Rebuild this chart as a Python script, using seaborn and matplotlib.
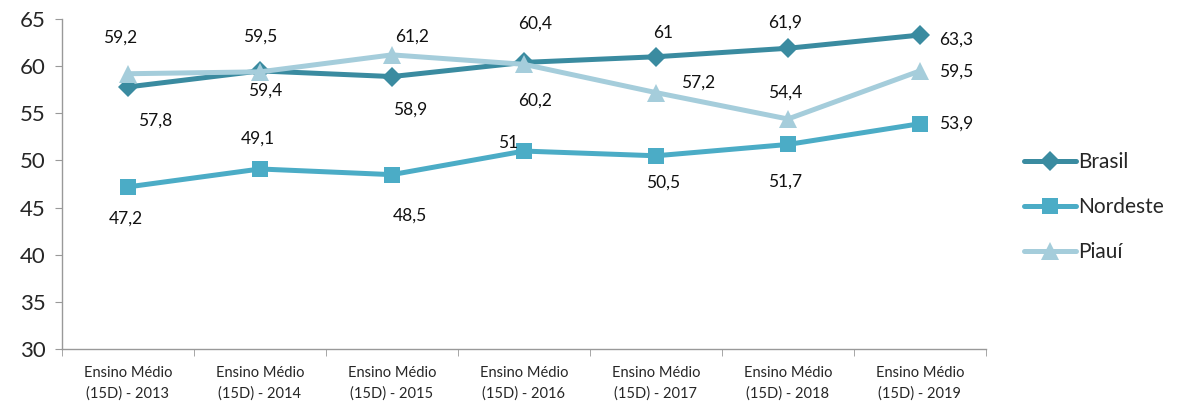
import matplotlib
matplotlib.use('Agg')
import matplotlib.pyplot as plt
import seaborn as sns
import pandas as pd

# data
categorias = ["Ensino Médio\n(15D) - 2013", "Ensino Médio\n(15D) - 2014", "Ensino Médio\n(15D) - 2015",
              "Ensino Médio\n(15D) - 2016", "Ensino Médio\n(15D) - 2017", "Ensino Médio\n(15D) - 2018",
              "Ensino Médio\n(15D) - 2019"]
brasil = [57.8, 59.5, 58.9, 60.4, 61.0, 61.9, 63.3]
nordeste = [47.2, 49.1, 48.5, 51.0, 50.5, 51.7, 53.9]
piaui = [59.2, 59.4, 61.2, 60.2, 57.2, 54.4, 59.5]
series = ["Brasil", "Nordeste", "Piauí"]

# label offsets (pixels) for the data labels
offsets = {
    "Brasil": [(27, -34), (0, 34), (18, -33), (11, 39), (7, 24), (-3, 26), (36, -5)],
    "Nordeste": [(-2, -32), (-2, 30), (18, -41), (-16, 8), (7, -27), (-3, -37), (36, 0)],
    "Piauí": [(-8, 36), (5, -19), (20, 18), (11, -36), (42, 10), (-3, 26), (36, -1)],
}
cores = {"Brasil": "#3a8ba0", "Nordeste": "#4bacc6", "Piauí": "#a5cddb"}
marcadores = {"Brasil": "D", "Nordeste": "s", "Piauí": "^"}
tamanhos = {"Brasil": 10, "Nordeste": 12, "Piauí": 13}

rows = []
for nome, vals in zip(series, [brasil, nordeste, piaui]):
    for i, v in enumerate(vals):
        rows.append({"x": i, "valor": v, "serie": nome})
df = pd.DataFrame(rows)

sns.set_style("white")
plt.rcParams['font.family'] = ['Lato', 'DejaVu Sans']

fig = plt.figure(figsize=(11.83, 4.05), dpi=100)
ax = fig.add_axes([0.0524, 0.138, 0.781, 0.815])

for nome in series:
    sub = df[df.serie == nome]
    sns.lineplot(data=sub, x="x", y="valor", color=cores[nome], marker=marcadores[nome],
                 markersize=tamanhos[nome], markeredgewidth=0, linewidth=3.6, ax=ax, label=nome)
    for (i, v), off in zip(zip(sub.x, sub.valor), offsets[nome]):
        txt = ("%g" % v).replace(".", ",")
        ax.annotate(txt, (i, v), xytext=off, textcoords="offset pixels",
                    ha="center", va="center", fontsize=12.5, color="#111111")

ax.set_xlim(-0.5, len(categorias) - 0.5)
ax.set_ylim(30, 65)
ax.set_yticks(range(30, 66, 5))
ax.set_xticks(range(len(categorias)))
ax.set_xticklabels(categorias, fontsize=10.5, linespacing=1.6)
ax.set_xticks([i - 0.5 for i in range(len(categorias) + 1)], minor=True)
ax.tick_params(axis='x', which='major', length=0, pad=12)
ax.tick_params(axis='x', which='minor', length=5, color='#999999', direction='out', bottom=True)
ax.tick_params(axis='y', length=5, color='#999999', direction='out', left=True, labelsize=16, pad=7)
ax.set_xlabel("")
ax.set_ylabel("")
for s in ["top", "right"]:
    ax.spines[s].set_visible(False)
for s in ["left", "bottom"]:
    ax.spines[s].set_color("#999999")
    ax.spines[s].set_linewidth(1)

ax.legend(loc="center left", bbox_to_anchor=(1.03, 0.43), frameon=False, fontsize=15,
          handlelength=2.5, handletextpad=0.1, labelspacing=1.2, borderpad=0)

fig.savefig("out.png", dpi=100)
